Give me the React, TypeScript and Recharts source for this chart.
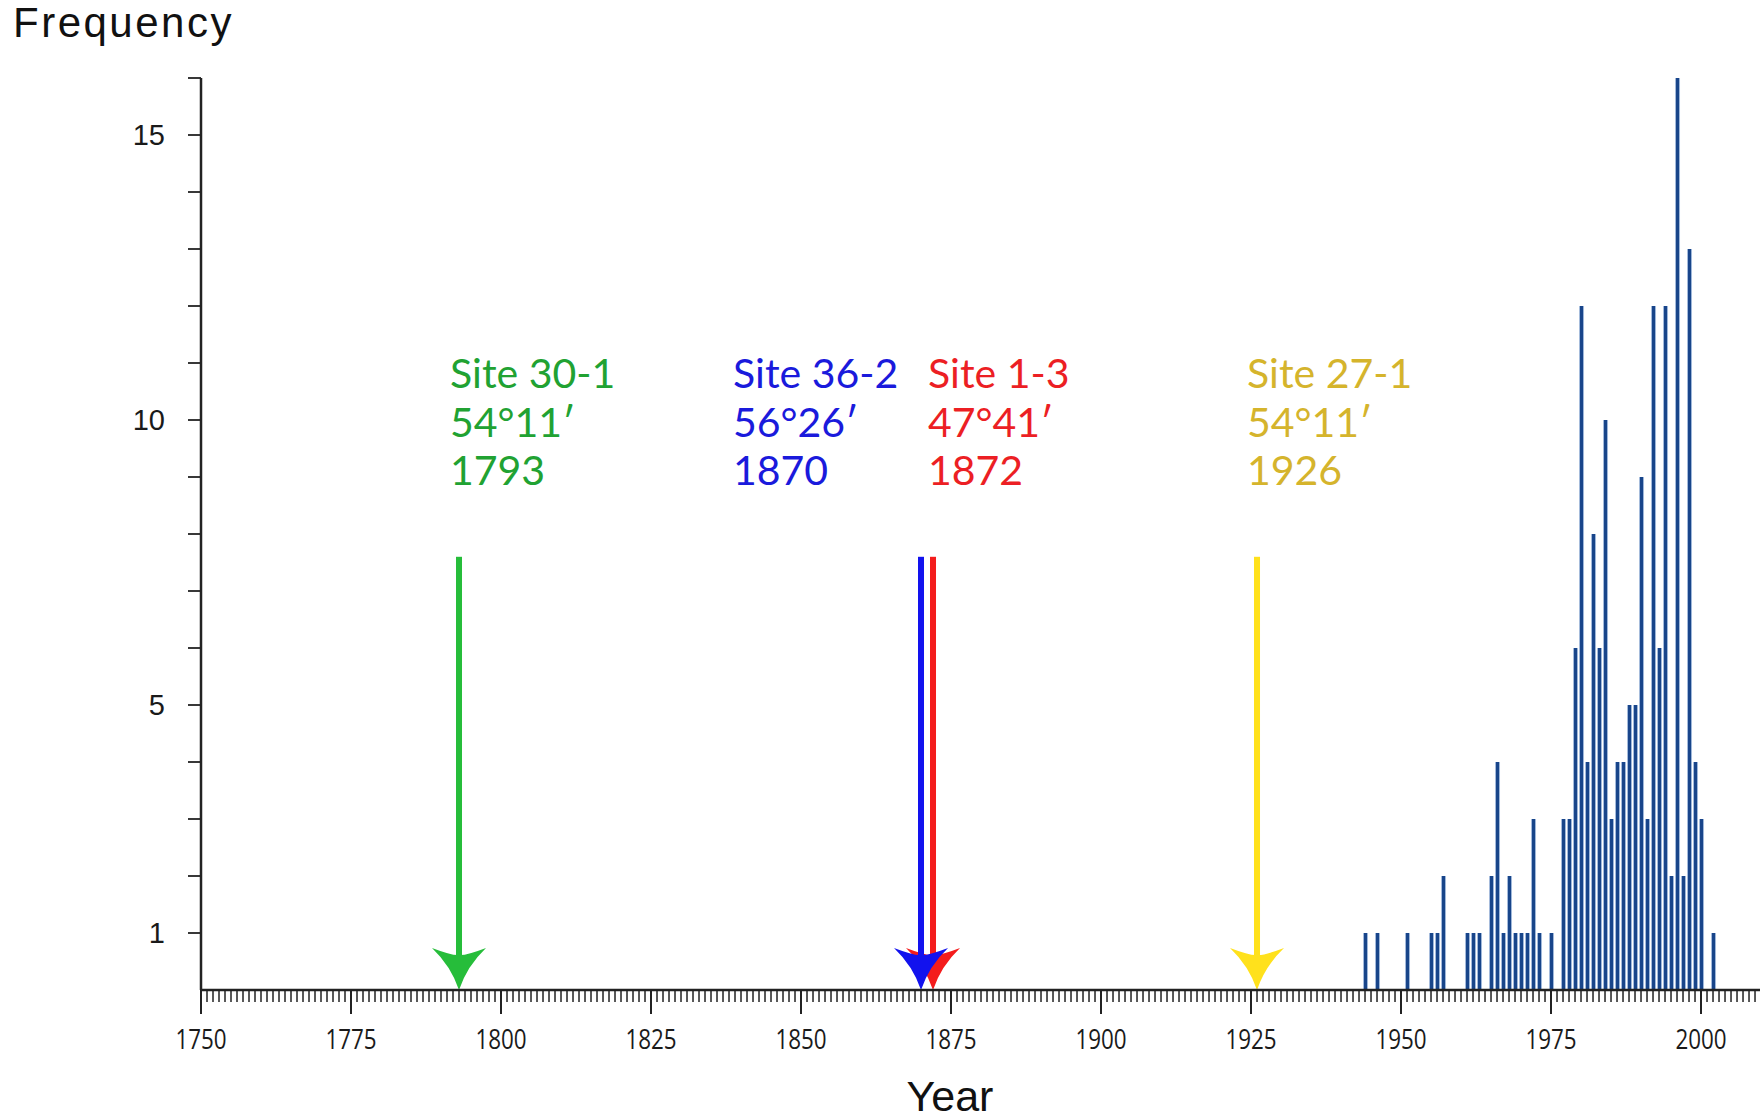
import React from 'react';
import { ComposedChart, Bar, XAxis, YAxis, ReferenceLine } from 'recharts';

// years with at least one record, and how many records each year
const years = [
  1944, 1946, 1951, 1955, 1956, 1957, 1961, 1962, 1963, 1965, 1966, 1967, 1968, 1969, 1970,
  1971, 1972, 1973, 1975, 1977, 1978, 1979, 1980, 1981, 1982, 1983, 1984, 1985, 1986, 1987,
  1988, 1989, 1990, 1991, 1992, 1993, 1994, 1995, 1996, 1997, 1998, 1999, 2000, 2002,
];
const counts = [
  1, 1, 1, 1, 1, 2, 1, 1, 1, 2, 4, 1, 2, 1, 1,
  1, 3, 1, 1, 3, 3, 6, 12, 4, 8, 6, 10, 3, 4, 4,
  5, 5, 9, 3, 12, 6, 12, 2, 16, 2, 13, 4, 3, 1,
];

// site markers (arrows)
const siteNames = ['Site 30-1', 'Site 36-2', 'Site 1-3', 'Site 27-1'];
const siteLatitudes = ['54°11′', '56°26′', '47°41′', '54°11′'];
const siteYears = [1793, 1870, 1872, 1926];
const arrowTop = 7.6;

const yearTicks: number[] = [];
for (let y = 1750; y <= 2009; y++) yearTicks.push(y);
const yLabelled = [1, 5, 10, 15];
const freqTicks = [1, 2, 3, 4, 5, 6, 7, 8, 9, 10, 11, 12, 13, 14, 15, 16];

const data = years.map((year, i) => ({ year, count: counts[i] }));

// styling per site
const arrowColors = ['#26bd3a', '#1212ee', '#f41c1c', '#ffe11c'];
const textColors = ['#21a232', '#1a1adc', '#ec1f24', '#d5b42c'];
const textDx = [-9, -188, -5, -10];
const drawOrder = [0, 2, 1, 3];

const SANS = "Lato, 'Open Sans', sans-serif";
const TICKFONT = "'Open Sans', 'Noto Sans', sans-serif";
const ARIAL = "'Liberation Sans', Arial, sans-serif";

const XTick = ({ x, y, payload }: any) => {
  const v = payload.value;
  const major = v % 25 === 0;
  return (
    <g>
      <line x1={x} x2={x} y1={y} y2={y + (major ? 24 : 12)} stroke="#222" strokeWidth={major ? 2 : 1.5} />
      {major && (
        <text
          transform={`translate(${x},${y + 59}) scale(0.8,1)`}
          textAnchor="middle"
          fontSize={28}
          fontFamily={TICKFONT}
          fill="#1a1a1a"
        >
          {v}
        </text>
      )}
    </g>
  );
};

const YTick = ({ x, y, payload }: any) => {
  const v = payload.value;
  return (
    <g>
      <line x1={x - 13} x2={x} y1={y} y2={y} stroke="#222" strokeWidth={1.8} />
      {yLabelled.includes(v) && (
        <text x={x - 36} y={y + 10} textAnchor="end" fontSize={29} fontFamily={ARIAL} fill="#1a1a1a">
          {v}
        </text>
      )}
    </g>
  );
};

const StickBar = (props: any) => {
  const { x, y, width, height } = props;
  const cx = x + width / 2;
  return (
    <g>
      <rect x={cx - 2.5} y={y} width={5} height={height} fill="#a3badb" />
      <rect x={cx - 1.5} y={y} width={3} height={height} fill="#18458a" />
    </g>
  );
};

const makeArrow = (i: number) => (props: any) => {
  const { x1, y1, y2 } = props;
  const x = x1;
  const tip = Math.max(y1, y2);
  const top = Math.min(y1, y2);
  const c = arrowColors[i];
  const head = `M ${x - 27} ${tip - 42} Q ${x - 6} ${tip - 34} ${x} ${tip - 35} Q ${x + 6} ${tip - 34} ${x + 27} ${tip - 42} Q ${x + 8} ${tip - 24} ${x} ${tip} Q ${x - 8} ${tip - 24} ${x - 27} ${tip - 42} Z`;
  const tx = x + textDx[i];
  return (
    <g>
      <rect x={x - 3} y={top} width={6} height={tip - top - 30} fill={c} />
      <path d={head} fill={c} />
      <g fontFamily={SANS} fontSize={41} fill={textColors[i]}>
        <text x={tx} y={top - 169}>{siteNames[i]}</text>
        <text x={tx} y={top - 120}>{siteLatitudes[i]}</text>
        <text x={tx} y={top - 72}>{siteYears[i]}</text>
      </g>
    </g>
  );
};

export default function App() {
  return (
    <div style={{ position: 'absolute', left: 0, top: 0, width: 1760, height: 1120, background: '#fff' }}>
      <ComposedChart width={1760} height={1120} data={data} margin={{ top: 78, right: 0, bottom: 30, left: 0 }}>
        <XAxis
          type="number"
          dataKey="year"
          domain={[1750, 2009.83]}
          allowDataOverflow
          ticks={yearTicks}
          interval={0}
          tick={<XTick />}
          tickLine={false}
          tickSize={0}
          tickMargin={0}
          height={100}
          axisLine={{ stroke: '#222', strokeWidth: 2.5 }}
          label={{
            content: () => (
              <text x={950} y={1111} textAnchor="middle" fontSize={43} fontFamily={ARIAL} fill="#111">
                Year
              </text>
            ),
          }}
        />
        <YAxis
          type="number"
          domain={[0, 16]}
          ticks={freqTicks}
          interval={0}
          tick={<YTick />}
          tickLine={false}
          tickSize={0}
          tickMargin={0}
          width={201}
          axisLine={{ stroke: '#222', strokeWidth: 2.5 }}
          label={{
            content: () => (
              <text x={13} y={37} fontSize={42} letterSpacing={2.5} fontFamily={ARIAL} fill="#111">
                Frequency
              </text>
            ),
          }}
        />
        <Bar dataKey="count" barSize={5} shape={<StickBar />} isAnimationActive={false} />
        {drawOrder.map((i) => (
          <ReferenceLine
            key={siteNames[i]}
            segment={[
              { x: siteYears[i], y: 0 },
              { x: siteYears[i], y: arrowTop },
            ]}
            shape={makeArrow(i)}
          />
        ))}
      </ComposedChart>
    </div>
  );
}
